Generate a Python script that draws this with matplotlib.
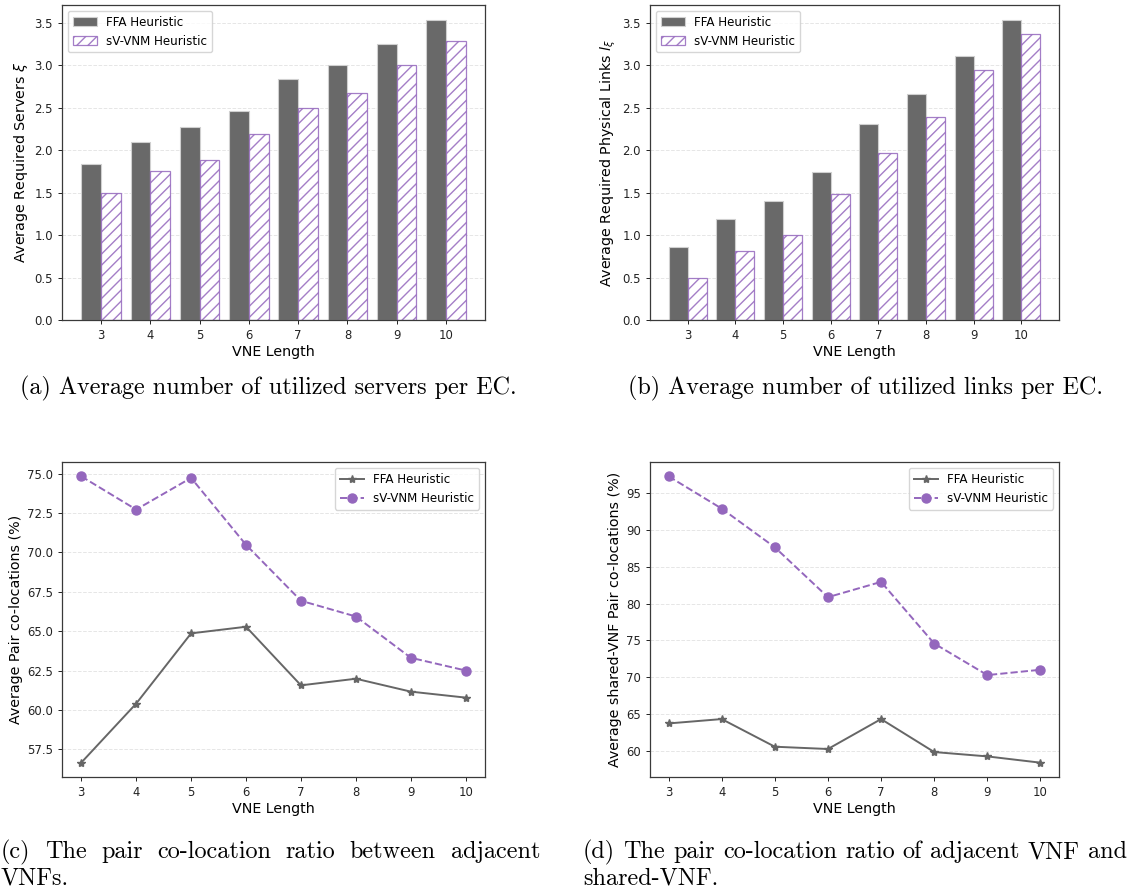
import matplotlib
matplotlib.use("Agg")
import matplotlib.pyplot as plt
import numpy as np

# ---- data ----
vne_length = [3, 4, 5, 6, 7, 8, 9, 10]
series_names = ["FFA Heuristic", "sV-VNM Heuristic"]

servers_ffa = [1.84, 2.10, 2.27, 2.46, 2.83, 3.00, 3.25, 3.53]
servers_svvnm = [1.50, 1.75, 1.88, 2.19, 2.49, 2.67, 3.00, 3.28]

links_ffa = [0.86, 1.19, 1.40, 1.74, 2.31, 2.66, 3.11, 3.53]
links_svvnm = [0.50, 0.81, 1.00, 1.48, 1.97, 2.39, 2.94, 3.37]

pair_ffa = [56.65, 60.40, 64.86, 65.28, 61.56, 61.98, 61.16, 60.78]
pair_svvnm = [74.83, 72.72, 74.73, 70.48, 66.93, 65.93, 63.31, 62.50]

shared_ffa = [63.78, 64.37, 60.63, 60.32, 64.37, 59.91, 59.32, 58.47]
shared_svvnm = [97.21, 92.84, 87.61, 80.86, 82.93, 74.59, 70.32, 71.04]

caption_a = "(a) Average number of utilized servers per EC."
caption_b = "(b) Average number of utilized links per EC."
caption_c = ["(c) The pair co-location ratio between adjacent", "VNFs."]
caption_d = ["(d) The pair co-location ratio of adjacent VNF and", "shared-VNF."]

# ---- style ----
W, H = 1131, 893
GRAY = "#666666"
PURPLE = "#9467bd"
TICK_FS = 8.4
LABEL_FS = 10.3
LEGEND_FS = 8.6
CAP_FONT = ["cmr10", "DejaVu Serif"]
CAP_FS = 17.4

plt.rcParams["font.family"] = ["DejaVu Sans"]
plt.rcParams["hatch.linewidth"] = 1.0
plt.rcParams["axes.unicode_minus"] = False

fig = plt.figure(figsize=(W / 100, H / 100), dpi=100)


def add_axes(x0, y0, x1, y1):
    return fig.add_axes([x0 / W, 1 - y1 / H, (x1 - x0) / W, (y1 - y0) / H])


def style_axes(ax):
    ax.set_axisbelow(True)
    ax.grid(axis="y", color="#e6e6e6", linestyle="--", linewidth=0.7)
    for s in ax.spines.values():
        s.set_color("#3a3a3a")
        s.set_linewidth(0.9)
    ax.tick_params(labelsize=TICK_FS, length=3, width=0.7, colors="#222222")
    ax.set_xticks(vne_length)
    ax.set_xlabel("VNE Length", fontsize=LABEL_FS, labelpad=2)


def bar_panel(ax, ffa, sv, ylabel):
    x = np.array(vne_length, dtype=float)
    w = 0.4
    ax.bar(x - w / 2, ffa, w, color="dimgray", edgecolor="#d0d0d0",
           linewidth=0.8, label=series_names[0])
    ax.bar(x + w / 2, sv, w, facecolor="white", edgecolor=PURPLE, alpha=0.85,
           hatch="///", linewidth=0.9, label=series_names[1])
    style_axes(ax)
    ax.set_ylabel(ylabel, fontsize=LABEL_FS, labelpad=3)
    ax.set_yticks(np.arange(0, 3.51, 0.5))
    ax.legend(loc="upper left", fontsize=LEGEND_FS, framealpha=0.8,
              edgecolor="#cccccc")


def line_panel(ax, ffa, sv, ylabel):
    ax.plot(vne_length, ffa, color=GRAY, linestyle="-", marker="*",
            markersize=6, linewidth=1.4, label=series_names[0])
    ax.plot(vne_length, sv, color=PURPLE, linestyle="--", marker="o",
            markersize=6.5, linewidth=1.4, label=series_names[1])
    style_axes(ax)
    ax.set_ylabel(ylabel, fontsize=LABEL_FS, labelpad=3)
    ax.legend(loc="upper right", fontsize=LEGEND_FS, framealpha=0.8,
              edgecolor="#cccccc")


ax_a = add_axes(62, 5, 485, 320)
bar_panel(ax_a, servers_ffa, servers_svvnm, r"Average Required Servers $\xi$")

ax_b = add_axes(650, 5, 1059, 320)
bar_panel(ax_b, links_ffa, links_svvnm, r"Average Required Physical Links $l_\xi$")

ax_c = add_axes(62, 462, 485, 777)
line_panel(ax_c, pair_ffa, pair_svvnm, "Average Pair co-locations (%)")
ax_c.set_yticks(np.arange(57.5, 75.01, 2.5))

ax_d = add_axes(650, 462, 1059, 777)
line_panel(ax_d, shared_ffa, shared_svvnm,
           "Average shared-VNF Pair co-locations (%)")
ax_d.set_yticks(np.arange(60, 95.01, 5))


# ---- captions ----
def caption(text, xc, y):
    fig.text(xc / W, 1 - y / H, text, ha="center", va="center",
             family=CAP_FONT, fontsize=CAP_FS)


def justified(line, x0, x1, y):
    words = line.split(" ")
    texts = [fig.text(0, 1 - y / H, wd, ha="left", va="center",
                      family=CAP_FONT, fontsize=CAP_FS) for wd in words]
    renderer = fig.canvas.get_renderer()
    widths = [t.get_window_extent(renderer).width for t in texts]
    gap = (x1 - x0 - sum(widths)) / max(len(words) - 1, 1)
    x = x0
    for t, wd in zip(texts, widths):
        t.set_x(x / W)
        x += wd + gap


def left_text(line, x0, y):
    fig.text(x0 / W, 1 - y / H, line, ha="left", va="center",
             family=CAP_FONT, fontsize=CAP_FS)


caption(caption_a, 268, 388)
caption(caption_b, 866, 388)
justified(caption_c[0], 1, 540, 852)
left_text(caption_c[1], 1, 878)
justified(caption_d[0], 583, 1127, 852)
left_text(caption_d[1], 583, 878)

fig.savefig("out.png", dpi=100)
